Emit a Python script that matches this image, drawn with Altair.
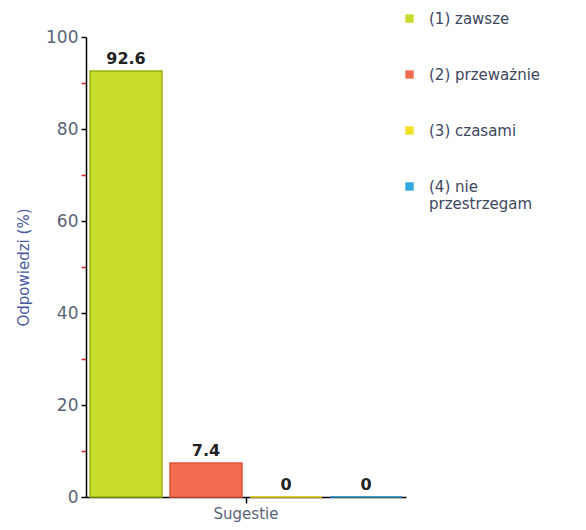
import altair as alt
import pandas as pd

categories = ["(1) zawsze", "(2) przeważnie", "(3) czasami", "(4) nie przestrzegam"]
values = [92.6, 7.4, 0, 0]
labels = ["92.6", "7.4", "0", "0"]
group = "Sugestie"
colors = ["#c8dc2c", "#f36b50", "#f2e024", "#30a8e0"]
strokes = ["#9aae10", "#e0553a", "#e6cf10", "#2a90c8"]
y_ticks = [0, 10, 20, 30, 40, 50, 60, 70, 80, 90, 100]

df = pd.DataFrame({
    "cat": categories,
    "val": values,
    "lab": labels,
    "grp": [group] * len(categories),
})

x = alt.X("grp:N", title=None,
          scale=alt.Scale(paddingInner=0, paddingOuter=0.0),
          axis=alt.Axis(labelAngle=0, labelFont="DejaVu Sans", labelFontSize=15,
                        labelColor="#5a6478", domainColor="#000000", tickColor="#000000",
                        tickSize=6, labelPadding=3, domainWidth=1.5, tickWidth=1.5))
xo = alt.XOffset("cat:N", sort=categories,
                 scale=alt.Scale(paddingInner=0.1, paddingOuter=0.05))
y = alt.Y("val:Q", title="Odpowiedzi (%)",
          scale=alt.Scale(domain=[0, 100], nice=False),
          axis=alt.Axis(values=y_ticks,
                        labelExpr="datum.value % 20 == 0 ? datum.label : ''",
                        tickColor={"condition": {"test": "datum.value % 20 == 0", "value": "#000000"},
                                   "value": "#dd2222"},
                        tickSize=5, tickWidth=1.5, domainWidth=1.5, domainColor="#000000",
                        labelFont="DejaVu Sans", labelFontSize=17, labelColor="#5a6478",
                        titleFont="DejaVu Sans", titleFontSize=15, titleColor="#4a5aa0",
                        titleFontWeight="normal", labelPadding=3, titlePadding=14, grid=False))

color = alt.Color("cat:N", sort=categories,
                  scale=alt.Scale(domain=categories, range=colors),
                  legend=alt.Legend(title=None, orient="none", legendX=316, legendY=-26,
                                    symbolType="square", symbolSize=70, symbolStrokeWidth=0,
                                    rowPadding=40, labelOffset=12,
                                    labelFont="DejaVu Sans", labelFontSize=15, labelColor="#3c4660",
                                    labelLimit=300,
                                    labelExpr="datum.label == '(4) nie przestrzegam' ? ['(4) nie', 'przestrzegam'] : datum.label"))

base = alt.Chart(df).encode(x=x, xOffset=xo)

bars = base.mark_bar(strokeWidth=1.5).encode(
    y=y,
    color=color,
    stroke=alt.Stroke("cat:N", sort=categories,
                      scale=alt.Scale(domain=categories, range=strokes), legend=None),
)

text = base.mark_text(dy=-12, fontSize=16, fontWeight="bold", font="DejaVu Sans",
                      color="#222222").encode(
    y=alt.Y("val:Q"),
    text="lab:N",
)

chart = (bars + text).properties(
    width=320, height=460,
    padding={"left": 8, "top": 3, "right": 5, "bottom": 5},
).configure_view(stroke=None)

chart.save("out.html", embed_options={"renderer": "svg", "actions": False})
